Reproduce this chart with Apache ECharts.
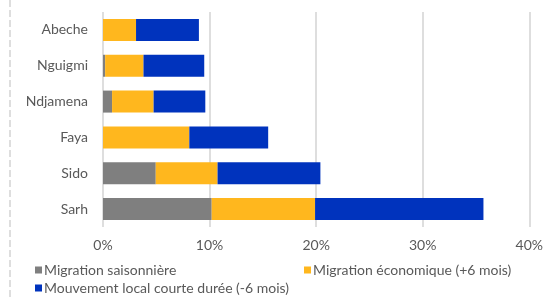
<!DOCTYPE html>
<html>
<head>
    <meta charset="utf-8">
    <title>Migration par site</title>
    <script src="https://cdn.jsdelivr.net/npm/echarts@6/dist/echarts.min.js"></script>
    <style>
        html, body { margin: 0; padding: 0; background: #fff; }
        #main { width: 546px; height: 297px; }
    </style>
</head>
<body>
<div id="main"></div>
<script>
// sites, de haut en bas
var sites = ['Abeche', 'Nguigmi', 'Ndjamena', 'Faya', 'Sido', 'Sarh'];
// valeurs en %
var saisonniere = [0, 0.2, 0.85, 0, 4.95, 10.2];
var economique = [3.1, 3.6, 3.9, 8.1, 5.8, 9.7];
var courteDuree = [5.9, 5.7, 4.85, 7.4, 9.65, 15.8];
var nomsSeries = ['Migration saisonnière', 'Migration économique (+6 mois)', 'Mouvement local courte durée (-6 mois)'];

var police = 'Lato, "Noto Sans", sans-serif';
var chart = echarts.init(document.getElementById('main'));

function legende(nom, left, top) {
    return {
        data: [nom],
        left: left,
        top: top,
        orient: 'horizontal',
        icon: 'rect',
        itemWidth: 7,
        itemHeight: 7,
        padding: 0,
        selectedMode: false,
        textStyle: { color: '#595959', fontSize: 14, fontFamily: police, padding: [0, 0, 0, -3] }
    };
}

function serie(nom, valeurs, couleur) {
    return {
        name: nom,
        type: 'bar',
        stack: 'total',
        barWidth: 22,
        itemStyle: { color: couleur },
        data: valeurs
    };
}

var option = {
    animation: false,
    color: ['#7f7f7f', '#ffb71e', '#0033bd'],
    grid: { left: 103, right: 15, top: 12, bottom: 70 },
    legend: [
        legende(nomsSeries[0], 35, 263),
        legende(nomsSeries[1], 304, 263),
        legende(nomsSeries[2], 35, 281)
    ],
    xAxis: {
        type: 'value',
        min: 0,
        max: 40,
        interval: 10,
        axisLine: { show: false },
        axisTick: { show: false },
        splitLine: { lineStyle: { color: '#dedede', width: 2 } },
        axisLabel: {
            formatter: '{value}%',
            color: '#595959',
            fontSize: 14,
            fontFamily: police,
            margin: 11
        }
    },
    yAxis: {
        type: 'category',
        inverse: true,
        data: sites,
        axisLine: { show: false },
        axisTick: { show: false },
        axisLabel: {
            color: '#595959',
            fontSize: 14,
            fontFamily: police,
            margin: 15
        }
    },
    graphic: [{
        type: 'line',
        shape: { x1: 10, y1: 0, x2: 10, y2: 297 },
        style: { stroke: '#d4d4d4', lineWidth: 1.5, lineDash: [7, 3] },
        silent: true
    }],
    series: [
        serie(nomsSeries[0], saisonniere, '#7f7f7f'),
        serie(nomsSeries[1], economique, '#ffb71e'),
        serie(nomsSeries[2], courteDuree, '#0033bd')
    ]
};
chart.setOption(option);
</script>
</body>
</html>
